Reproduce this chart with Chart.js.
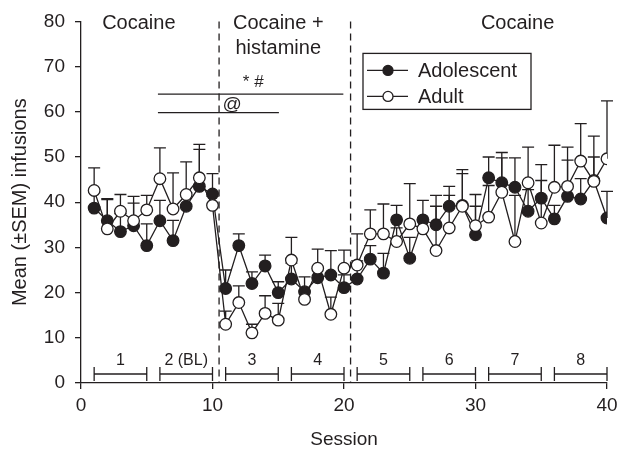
<!DOCTYPE html>
<html>
<head>
<meta charset="utf-8">
<script src="https://cdn.jsdelivr.net/npm/chart.js@4.4.0/dist/chart.umd.min.js"></script>
<style>
  html, body { margin: 0; padding: 0; background: #ffffff; }
  #wrap { width: 624px; height: 455px; position: relative; }
</style>
</head>
<body>
<div id="wrap"><canvas id="c" width="624" height="455"></canvas></div>
<script>
// ---------- data ----------
const sessions = [1,2,3,4,5,6,7,8,9,10,11,12,13,14,15,16,17,18,19,20,21,22,23,24,25,26,27,28,29,30,31,32,33,34,35,36,37,38,39,40];
const adolescentMean = [38.7,35.9,33.5,34.8,30.4,35.9,31.5,39.1,43.5,41.8,20.9,30.4,22.0,25.9,20.0,23.0,20.2,23.3,23.9,21.1,23.0,27.4,24.3,36.1,27.6,36.1,35.0,39.1,39.3,32.8,45.4,44.3,43.3,38.0,40.9,36.3,41.3,40.7,44.8,36.5];
const adolescentSEM  = [3.5,4.9,4.0,5.0,4.8,4.5,4.5,3.0,8.2,4.5,4.1,2.6,2.6,2.4,2.4,3.5,3.3,2.0,5.4,2.8,4.0,3.0,4.4,3.2,4.6,4.3,6.5,4.4,7.0,6.3,4.6,6.7,6.5,4.8,3.9,3.0,8.0,4.5,5.2,5.9];
const adultMean      = [42.6,34.1,38.0,35.9,38.3,45.2,38.5,41.7,45.4,39.3,13.0,17.8,11.1,15.4,13.9,27.2,18.5,25.4,15.2,25.4,26.1,33.0,33.0,31.3,35.2,34.1,29.3,34.3,39.1,34.8,36.7,42.2,31.3,44.3,35.4,43.3,43.5,49.1,44.6,49.6];
const adultSEM       = [5.0,6.5,3.7,5.4,3.2,6.8,8.0,7.2,7.4,2.0,2.9,3.7,1.9,3.9,3.7,5.0,2.0,4.2,3.8,4.0,6.9,5.3,6.6,3.0,8.9,2.0,9.8,7.2,8.1,6.9,7.0,7.6,10.2,7.9,12.9,9.3,8.7,8.3,10.0,12.8];
const seriesNames = ['Adolescent', 'Adult'];
const yTicks = [0,10,20,30,40,50,60,70,80];
const xTicks = [0,10,20,30,40];
const phaseBoundaries = [10.5, 20.5];
const phaseLabels = [
  { text: ['Cocaine'], x: 4.4 },
  { text: ['Cocaine +', 'histamine'], x: 15.0 },
  { text: ['Cocaine'], x: 33.2 }
];
const blockLabels = ['1','2 (BL)','3','4','5','6','7','8'];
const blockStart  = [1,6,11,16,21,26,31,36];
const blockEnd    = [5,10,15,20,25,30,35,40];
const sigLabels = [
  { text: '* #', from: 5.85, to: 19.95, lineY: 63.9, textX: 13.1, textY: 66.6 },
  { text: '@',   from: 5.85, to: 15.05, lineY: 59.8, textX: 11.5, textY: 61.6 }
];

// ---------- styling ----------
const INK = '#231f20';
const FONT = '"Liberation Sans", Arial, Helvetica, sans-serif';

function pts(mean) { return sessions.map((s, i) => ({ x: s, y: mean[i] })); }

const errorBarPlugin = {
  id: 'errorBars',
  beforeDatasetsDraw(chart) {
    const { ctx, scales: { x, y } } = chart;
    const sets = [[adolescentMean, adolescentSEM], [adultMean, adultSEM]];
    ctx.save();
    ctx.strokeStyle = INK;
    ctx.lineWidth = 1.3;
    sets.forEach(([m, e]) => {
      sessions.forEach((s, i) => {
        const px = x.getPixelForValue(s);
        const y0 = y.getPixelForValue(m[i]);
        const y1 = y.getPixelForValue(m[i] + e[i]);
        ctx.beginPath();
        ctx.moveTo(px, y0); ctx.lineTo(px, y1);
        ctx.moveTo(px - 6, y1); ctx.lineTo(px + 6, y1);
        ctx.stroke();
      });
    });
    ctx.restore();
  }
};

const decorPlugin = {
  id: 'decor',
  beforeDatasetsDraw(chart) {
    const { ctx, chartArea: a, scales: { x, y } } = chart;
    ctx.save();
    ctx.strokeStyle = INK;
    ctx.fillStyle = INK;
    // dashed phase boundaries
    ctx.lineWidth = 1.3;
    ctx.setLineDash([7, 5]);
    phaseBoundaries.forEach(b => {
      const px = x.getPixelForValue(b);
      ctx.beginPath(); ctx.moveTo(px, a.top); ctx.lineTo(px, a.bottom); ctx.stroke();
    });
    ctx.setLineDash([]);
    // phase titles
    ctx.font = '20px ' + FONT;
    ctx.textAlign = 'center';
    ctx.textBaseline = 'middle';
    phaseLabels.forEach(p => {
      p.text.forEach((t, k) => {
        ctx.fillText(t, x.getPixelForValue(p.x), a.top + 2 + k * 25);
      });
    });
    // significance lines
    ctx.lineWidth = 1.3;
    sigLabels.forEach(s => {
      const py = y.getPixelForValue(s.lineY);
      ctx.beginPath();
      ctx.moveTo(x.getPixelForValue(s.from), py);
      ctx.lineTo(x.getPixelForValue(s.to), py);
      ctx.stroke();
    });
    ctx.font = '17px ' + FONT;
    ctx.fillText(sigLabels[0].text, x.getPixelForValue(sigLabels[0].textX), y.getPixelForValue(sigLabels[0].textY));
    ctx.font = '19px ' + FONT;
    ctx.fillText(sigLabels[1].text, x.getPixelForValue(sigLabels[1].textX), y.getPixelForValue(sigLabels[1].textY));
    // block brackets
    ctx.font = '16px ' + FONT;
    blockLabels.forEach((lab, i) => {
      const x0 = x.getPixelForValue(blockStart[i]);
      const x1 = x.getPixelForValue(blockEnd[i]);
      const py = a.bottom - 9;
      ctx.beginPath();
      ctx.moveTo(x0, py); ctx.lineTo(x1, py);
      ctx.moveTo(x0, py - 7); ctx.lineTo(x0, py + 7);
      ctx.moveTo(x1, py - 7); ctx.lineTo(x1, py + 7);
      ctx.stroke();
      ctx.fillText(lab, (x0 + x1) / 2, a.bottom - 22);
    });
    ctx.restore();
  },
  afterDatasetsDraw(chart) {
    const { ctx, chartArea: a } = chart;
    // legend box
    const L = a.left + 282, T = a.top + 32, W = 168, H = 56;
    ctx.save();
    ctx.fillStyle = '#ffffff';
    ctx.fillRect(L, T, W, H);
    ctx.strokeStyle = INK;
    ctx.lineWidth = 1.3;
    ctx.strokeRect(L, T, W, H);
    const fills = [INK, '#ffffff'];
    seriesNames.forEach((name, i) => {
      const cy = T + 17 + i * 26;
      ctx.beginPath();
      ctx.moveTo(L + 4, cy); ctx.lineTo(L + 45, cy);
      ctx.stroke();
      ctx.beginPath();
      ctx.arc(L + 25, cy, 5, 0, Math.PI * 2);
      ctx.fillStyle = fills[i];
      ctx.fill();
      ctx.stroke();
      ctx.fillStyle = INK;
      ctx.font = '20px ' + FONT;
      ctx.textAlign = 'left';
      ctx.textBaseline = 'middle';
      ctx.fillText(name, L + 55, cy + 1);
    });
    ctx.restore();
  }
};

const common = {
  borderColor: INK,
  borderWidth: 1.3,
  pointRadius: 5.8,
  pointHoverRadius: 5.8,
  pointBorderColor: INK,
  pointBorderWidth: 1.3,
  tension: 0,
  fill: false
};

new Chart(document.getElementById('c'), {
  type: 'line',
  data: {
    datasets: [
      Object.assign({ label: seriesNames[0], data: pts(adolescentMean), pointBackgroundColor: INK, order: 1 }, common),
      Object.assign({ label: seriesNames[1], data: pts(adultMean), pointBackgroundColor: '#ffffff', order: 0 }, common)
    ]
  },
  options: {
    responsive: false,
    animation: false,
    devicePixelRatio: 1,
    layout: { padding: { top: 15, right: 17, bottom: 0, left: 0 } },
    plugins: { legend: { display: false }, tooltip: { enabled: false } },
    scales: {
      x: {
        type: 'linear', min: 0, max: 40,
        afterBuildTicks: s => { s.ticks = xTicks.map(v => ({ value: v })); },
        afterFit: s => { s.height = 72; },
        grid: { drawOnChartArea: false, drawTicks: true, tickLength: 6, color: INK, lineWidth: 1.3 },
        border: { color: INK, width: 1.3 },
        ticks: { color: INK, font: { family: FONT, size: 19 }, padding: 5, maxRotation: 0 },
        title: { display: true, text: 'Session', color: INK, font: { family: FONT, size: 19 }, padding: { top: 0, bottom: 4 } }
      },
      y: {
        type: 'linear', min: 0, max: 80,
        afterBuildTicks: s => { s.ticks = yTicks.map(v => ({ value: v })); },
        afterFit: s => { s.width = 81; },
        grid: { drawOnChartArea: false, drawTicks: true, tickLength: 6, color: INK, lineWidth: 1.3 },
        border: { color: INK, width: 1.3 },
        ticks: { color: INK, font: { family: FONT, size: 19 }, padding: 10 },
        title: { display: true, text: 'Mean (±SEM) infusions', color: INK, font: { family: FONT, size: 20 }, padding: { top: 8, bottom: 0 } }
      }
    }
  },
  plugins: [errorBarPlugin, decorPlugin]
});
</script>
</body>
</html>
